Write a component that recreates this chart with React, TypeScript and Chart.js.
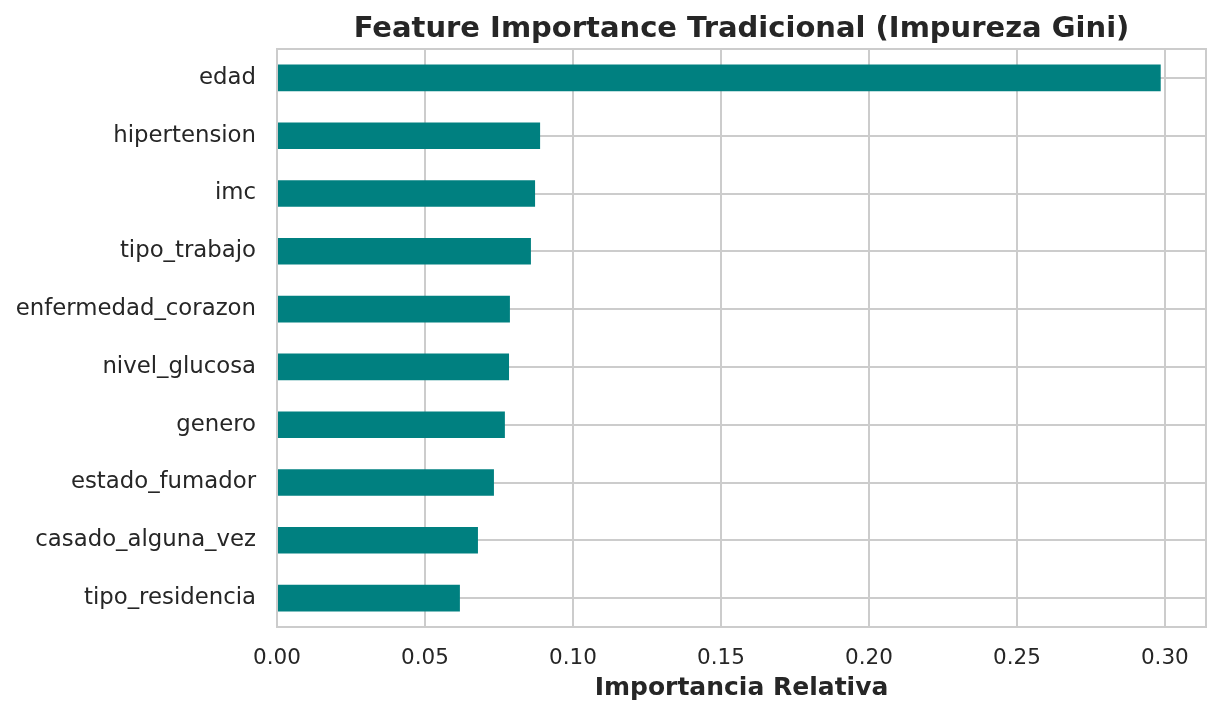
import React, { useEffect, useRef } from "react";
import { Chart, registerables } from "chart.js";

Chart.register(...registerables);

const features = [
  "edad",
  "hipertension",
  "imc",
  "tipo_trabajo",
  "enfermedad_corazon",
  "nivel_glucosa",
  "genero",
  "estado_fumador",
  "casado_alguna_vez",
  "tipo_residencia",
];
const importances = [0.2986, 0.0889, 0.0872, 0.0858, 0.0787, 0.0784, 0.077, 0.0733, 0.0679, 0.0618];
const xTicks = [0, 0.05, 0.1, 0.15, 0.2, 0.25, 0.3];
const titleText = "Feature Importance Tradicional (Impureza Gini)";
const xTitle = "Importancia Relativa";

const FONT = "'DejaVu Sans', sans-serif";
const GRID = "#cccccc";
const TEXT = "#262626";

export default function App() {
  const ref = useRef<HTMLCanvasElement | null>(null);
  useEffect(() => {
    if (!ref.current) return;
    const framePlugin = {
      id: "frame",
      afterDraw(chart: any) {
        const { ctx, chartArea } = chart;
        ctx.save();
        ctx.strokeStyle = GRID;
        ctx.lineWidth = 2;
        ctx.strokeRect(chartArea.left, chartArea.top, chartArea.right - chartArea.left, chartArea.bottom - chartArea.top);
        ctx.fillStyle = TEXT;
        ctx.font = `bold 29px ${FONT}`;
        ctx.textAlign = "center";
        ctx.textBaseline = "middle";
        ctx.fillText(titleText, (chartArea.left + chartArea.right) / 2, 29);
        ctx.restore();
      },
    };
    const chart = new Chart(ref.current, {
      type: "bar",
      data: {
        labels: features,
        datasets: [
          {
            data: importances,
            backgroundColor: "#008080",
            borderWidth: 0,
            categoryPercentage: 1,
            barPercentage: 0.46,
          },
        ],
      },
      options: {
        indexAxis: "y",
        animation: false,
        responsive: false,
        layout: { padding: { top: 49, right: 15, left: 0, bottom: 0 } },
        plugins: { legend: { display: false }, tooltip: { enabled: false }, title: { display: false } },
        scales: {
          x: {
            type: "linear",
            min: 0,
            max: 0.3139,
            afterBuildTicks(scale: any) {
              scale.ticks = xTicks.map((v) => ({ value: v }));
            },
            afterFit(scale: any) {
              scale.height = 90;
            },
            ticks: {
              color: TEXT,
              font: { family: FONT, size: 21.5 },
              padding: 19,
              callback: (v: any) => Number(v).toFixed(2),
            },
            grid: { color: GRID, lineWidth: 2, drawTicks: false },
            border: { color: GRID, width: 2 },
            title: {
              display: true,
              text: xTitle,
              color: TEXT,
              font: { family: FONT, size: 25, weight: "bold" },
              padding: { top: 0, bottom: 14 },
            },
          },
          y: {
            afterFit(scale: any) {
              scale.width = 277;
            },
            ticks: {
              color: TEXT,
              font: { family: FONT, size: 22.8 },
              padding: 21,
            },
            grid: { color: GRID, lineWidth: 2, drawTicks: false, offset: false },
            border: { color: GRID, width: 2 },
          },
        },
      },
      plugins: [framePlugin],
    });
    return () => chart.destroy();
  }, []);
  return (
    <div style={{ position: "absolute", left: 0, top: 0, width: 1221, height: 717, background: "#fff" }}>
      <canvas ref={ref} width={1221} height={717} style={{ width: 1221, height: 717 }} />
    </div>
  );
}
